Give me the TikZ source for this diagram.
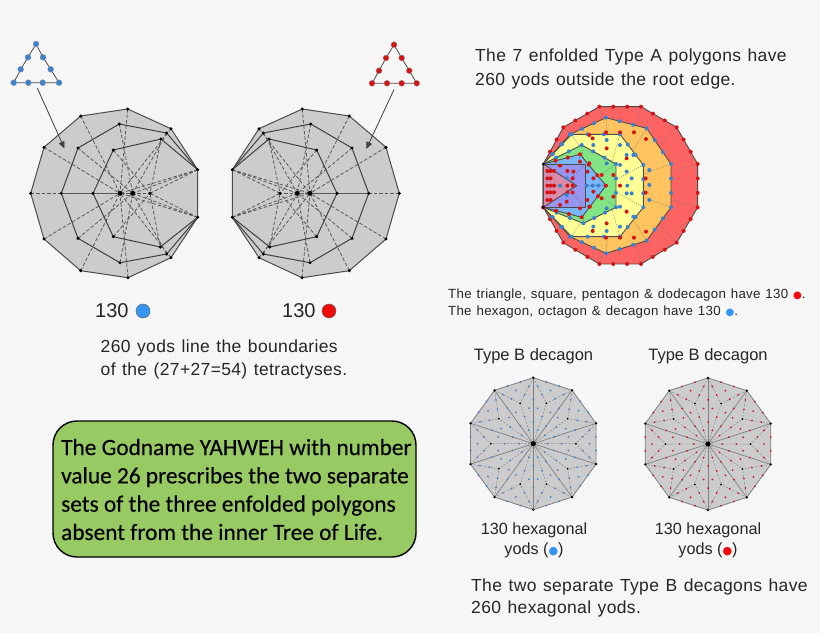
\documentclass[tikz,border=0pt]{standalone}
\usepackage{fontspec}
\setmainfont{Liberation Sans}
\newfontfamily\widefont[LetterSpace=2.0,WordSpace=1.25]{Liberation Sans}
\newfontfamily\boxfont[FakeBold=0.25]{Carlito}
\newfontfamily\symfont{DejaVu Sans}
\usetikzlibrary{calc,arrows.meta}
\definecolor{PageGray}{RGB}{246,246,246}
\definecolor{PolyGray}{RGB}{204,204,204}
\definecolor{BoxGreen}{RGB}{152,202,100}
\definecolor{YodBlue}{RGB}{58,130,205}
\definecolor{YodRed}{RGB}{212,20,20}
\definecolor{BigBlue}{RGB}{52,150,240}
\definecolor{BigRed}{RGB}{240,10,10}
\definecolor{RingRed}{RGB}{252,100,100}
\definecolor{RingOrange}{RGB}{255,196,96}
\definecolor{RingYellow}{RGB}{255,255,150}
\definecolor{RingGreen}{RGB}{130,228,130}
\definecolor{RingBlue}{RGB}{120,184,250}
\definecolor{RingPurple}{RGB}{150,150,240}
\definecolor{RingPink}{RGB}{216,140,170}
\tikzset{
	poly/.style={draw=black!70,fill=PolyGray,line width=1pt,line join=round},
	inner/.style={draw=black!75,line width=1pt,line join=round},
	spoke/.style={draw=black!65,line width=0.8pt,dash pattern=on 3.5pt off 2pt},
	v/.style={fill=black},
	ring/.style={draw=black!70,line width=0.9pt,line join=round},
	ringspoke/.style={draw=black!55,line width=0.4pt,dash pattern=on 1.2pt off 1.2pt},
	edge/.style={draw=black!50,line width=0.8pt},
	pointer/.style={draw=black!75,line width=0.8pt,-{Triangle[length=7pt,width=6pt]}},
	caption/.style={anchor=west,align=left,text=black!85,inner sep=0pt},
	bigyod/.style={circle,draw=black!60,line width=0.5pt,minimum size=14pt,inner sep=0pt},
}
% path through a list of points
\newcommand{\polyline}[3]{
	\foreach \p [count=\n] in {#2} {\path \p coordinate (c\n); \xdef\ptcount{\n}}
	\path[#1] (c1) \foreach \n in {2,...,\ptcount} {-- (c\n)} #3;
}
% tetractys triangle with its yods
\newcommand{\tetractys}[2]{
	\polyline{draw=black!70,line width=0.8pt}{#2}{-- cycle}
	\foreach \p in {#2} \fill[#1,draw=black!40,line width=0.3pt] \p circle (3pt);
}
% one layer of the enfolded set
\newcommand{\ringlayer}[3]{
	\polyline{ring,fill=#1}{#3}{-- cycle}
	\foreach \p in {#3} \draw[ringspoke] \p -- (#2,272);
}
\newcommand{\ringyods}[2]{
	\foreach \p [remember=\p as \q (initially {(40,207)})] in {#2} {
		\path \q coordinate (A) \p coordinate (B);
		\fill[#1] ($(A)!.333!(B)$) circle (2pt) ($(A)!.667!(B)$) circle (2pt) (B) circle (2pt);
	}
}
% Type B decagon of 30 tetractyses
\newcommand{\typeB}[3]{
	\begin{scope}[shift={(#1,#2)}]
		\coordinate (O) at (0,0);
		\path[edge,fill=PolyGray] (90:66) \foreach \i in {1,...,9} {-- (90+36*\i:66)} -- cycle;
		\foreach \i in {0,...,9} {
			\coordinate (V) at (90+36*\i:66);
			\coordinate (W) at (126+36*\i:66);
			\coordinate (P) at (108+36*\i:42.5);
			\draw[edge,line width=0.7pt] (O) -- (V);
			\draw[ringspoke,draw=black!45,line width=0.5pt,dash pattern=on 2pt off 1.5pt] (V) -- (P) -- (W) (O) -- (P);
			\foreach \a/\b in {O/V,V/W,V/P,W/P,O/P}
				\fill[#3] ($(\a)!.333!(\b)$) circle (1pt) ($(\a)!.667!(\b)$) circle (1pt);
			\fill[#3] (barycentric cs:O=1,V=1,P=1) circle (1pt)
				(barycentric cs:O=1,W=1,P=1) circle (1pt)
				(barycentric cs:V=1,W=1,P=1) circle (1pt);
			\fill[v] (V) circle (1.3pt) (P) circle (1pt);
		}
		\fill[v] (O) circle (2.6pt);
	\end{scope}
}
\begin{document}
\begin{tikzpicture}[x=1pt,y=-1pt]
	\useasboundingbox[fill=PageGray] (0,0) rectangle (820,633);
	% the two tetractys triangles
	\tetractys{YodBlue}{(36,44),(28,57.3),(20.7,69.3),(13.7,82.7),(28.3,82.7),(42.7,82.7),(59,82.7),(50.7,69.3),(43,57.3)}
	\tetractys{YodRed}{(394,44.7),(386,58),(379,70.7),(372,83.3),(387,83.3),(401.7,83.3),(416.7,83.3),(409.3,70.7),(401.7,58)}
	\coordinate (leftfrom) at (37.3,88);
	\coordinate (leftto) at (64.5,148.5);
	\coordinate (rightfrom) at (394,89.5);
	\coordinate (rightto) at (366.3,149);
	% the two polygon sets, the right one mirrored
	\foreach \s/\m in {1/0,-1/430} {
		\begin{scope}[shift={(\m,0)},xscale=\s]
			\polyline{poly}{(127.7,109),(171,128.7),(197.7,169.7),(197.7,217.3),(171,257.7),(128,277.7),(80.7,270.7),(44,239),(30.7,193.3),(44,147.3),(80.7,116)}{-- cycle}
			\foreach \p in {(127.7,109),(171,128.7),(197.7,169.7),(197.7,217.3),(171,257.7),(128,277.7),(80.7,270.7),(44,239),(30.7,193.3),(44,147.3),(80.7,116)} \draw[spoke] \p -- (120,193.3);
			\polyline{inner}{(197.7,169.7),(166.7,133),(119.3,124),(78,148),(61.3,193.3),(78,238.3),(120,262.7),(166.7,254),(197.7,217.3)}{}
			\foreach \p in {(166.7,133),(119.3,124),(78,148),(61.3,193.3),(78,238.3),(120,262.7),(166.7,254),(197.7,169.7),(197.7,217.3)} \draw[spoke] \p -- (132.7,193.3);
			\polyline{inner}{(197.7,169.7),(161,139),(113.3,150),(93,193.3),(113.3,236.7),(160.3,247),(197.7,217.3)}{}
			\foreach \p in {(161,139),(113.3,150),(93,193.3),(113.3,236.7),(160.3,247),(197.7,169.7),(197.7,217.3)} \draw[spoke] \p -- (150,193.3);
			\foreach \p in {(127.7,109),(171,128.7),(197.7,169.7),(197.7,217.3),(171,257.7),(128,277.7),(80.7,270.7),(44,239),(30.7,193.3),(44,147.3),(80.7,116),
				(166.7,133),(119.3,124),(78,148),(61.3,193.3),(78,238.3),(120,262.7),(166.7,254),
				(161,139),(113.3,150),(93,193.3),(113.3,236.7),(160.3,247),(150,193.3)}
				\fill[v] \p circle (1.7pt);
			\fill[v] (120,193.3) circle (2.4pt) (132.7,193.3) circle (2.4pt);
		\end{scope}
	}
	\draw[pointer] (leftfrom) -- (leftto);
	\draw[pointer] (rightfrom) -- (rightto);
	\node[caption,font=\fontsize{20}{24}\selectfont] (countblue) at (95,311) {130};
	\node[bigyod,fill=BigBlue] (dotblue) at (143,311) {};
	\node[caption,font=\fontsize{20}{24}\selectfont] (countred) at (282,311) {130};
	\node[bigyod,fill=BigRed] (dotred) at (329,311) {};
	\node[caption,font=\widefont\fontsize{17.5}{23.5}\selectfont] (boundaries) at (100.5,359.5) {260 yods line the boundaries\\of the (27+27=54) tetractyses.};
	% the enfolded set
	\begin{scope}[shift={(530,95)},x=0.3333pt,y=-0.3333pt]
		\ringlayer{RingRed}{272}{(40,207),(100,97),(208,35),(333,35),(440,97),(503,207),(503,337),(440,443),(333,507),(208,507),(100,443),(40,337)}
		\ringlayer{RingOrange}{245}{(40,207),(120,118),(228,68),(350,100),(423,207),(423,337),(350,437),(228,475),(120,425),(40,337)}
		\ringlayer{RingYellow}{225}{(40,207),(125,118),(270,118),(340,210),(340,337),(270,425),(125,425),(40,337)}
		\ringlayer{RingGreen}{170}{(40,207),(155,150),(258,207),(258,337),(160,385),(40,337)}
		\ringlayer{RingBlue}{140}{(40,207),(150,178),(228,272),(155,367),(40,337)}
		\ringlayer{RingPurple}{105}{(40,207),(165,207),(165,337),(40,337)}
		\path[ring,fill=RingPink] (40,207) -- (140,272) -- (40,337) -- cycle;
		\ringyods{YodRed}{(100,97),(208,35),(333,35),(440,97),(503,207),(503,337),(440,443),(333,507),(208,507),(100,443),(40,337)}
		\ringyods{YodBlue}{(120,118),(228,68),(350,100),(423,207),(423,337),(350,437),(228,475),(120,425),(40,337)}
		\ringyods{YodBlue}{(125,118),(270,118),(340,210),(340,337),(270,425),(125,425),(40,337)}
		\ringyods{YodBlue}{(155,150),(258,207),(258,337),(160,385),(40,337)}
		\ringyods{YodRed}{(150,178),(228,272),(155,367),(40,337)}
		\foreach \p in {(228,112),(270,112),(312,112),(348,132),(228,428),(270,428),(312,428),(348,410),(188,130),(188,408),(347,250),(347,293),(270,272),(290,190),(290,350),(230,160),(230,385),(215,240),(215,310),(250,240),(250,305),(178,120),(178,205),(178,335),(190,250),(190,290),
			(52,228),(62,228),(72,228),(112,228),(128,250),(52,250),(62,250),(52,272),(62,272),(72,272),(112,272),(128,272),(52,292),(62,292),(72,292),(112,292),(128,292),(52,315),(62,315),(110,320),(130,230),(90,212),(90,330),(150,200),(150,340),(172,230),(172,315)}
			\fill[YodRed] \p circle (2pt);
		\foreach \p in {(190,150),(230,135),(270,150),(290,180),(358,225),(358,270),(358,315),(310,180),(270,210),(290,230),(292,272),(290,295),(270,335),(310,365),(190,395),(230,408),(270,395),(305,250),(305,295),(230,205),(230,340),(205,272),(170,272),(188,272),(90,272),(110,250),(110,300)}
			\fill[YodBlue] \p circle (2pt);
		\foreach \p in {(40,207),(40,337)} \fill[v] \p circle (1.5pt);
	\end{scope}
	\node[caption,font=\widefont\fontsize{17.5}{23.5}\selectfont] (typeAtext) at (475,69) {The 7 enfolded Type A polygons have\\260 yods outside the root edge.};
	\node[caption,font=\widefont\fontsize{13.3}{17}\selectfont] (havetext) at (448,303.5) {The triangle, square, pentagon \& dodecagon have 130 {\symfont\color{BigRed}\fontsize{10}{10}\selectfont ●}.\\The hexagon, octagon \& decagon have 130 {\symfont\color{BigBlue}\fontsize{10}{10}\selectfont ●}.};
	\node[font=\fontsize{16.5}{18}\selectfont,text=black!85,inner sep=0pt] (titleblue) at (533.5,356) {Type B decagon};
	\node[font=\fontsize{16.5}{18}\selectfont,text=black!85,inner sep=0pt] (titlered) at (708,356) {Type B decagon};
	\typeB{533.3}{443.7}{YodBlue}
	\typeB{708}{444}{YodRed}
	\node[align=center,font=\fontsize{16.2}{20.5}\selectfont,text=black!85,inner sep=0pt] (sumblue) at (534,540.5) {130 hexagonal\\yods ({\symfont\color{BigBlue}\fontsize{11}{11}\selectfont ●})};
	\node[align=center,font=\fontsize{16.2}{20.5}\selectfont,text=black!85,inner sep=0pt] (sumred) at (708,540.5) {130 hexagonal\\yods ({\symfont\color{BigRed}\fontsize{11}{11}\selectfont ●})};
	\node[caption,font=\widefont\fontsize{17.5}{22}\selectfont] (typeBtext) at (471,598) {The two separate Type B decagons have\\260 hexagonal yods.};
	\node[draw=black,line width=1.4pt,fill=BoxGreen,rounded corners=24pt,minimum width=363pt,minimum height=136pt,inner sep=0pt] (godname) at (234.5,489) {};
	\node[anchor=west,align=left,inner sep=0pt,font=\boxfont\fontsize{23.3}{28.3}\selectfont] (godtext) at (61,489.5) {The Godname YAHWEH with number\\value 26 prescribes the two separate\\sets of the three enfolded polygons\\absent from the inner Tree of Life.};
\end{tikzpicture}
\end{document}
